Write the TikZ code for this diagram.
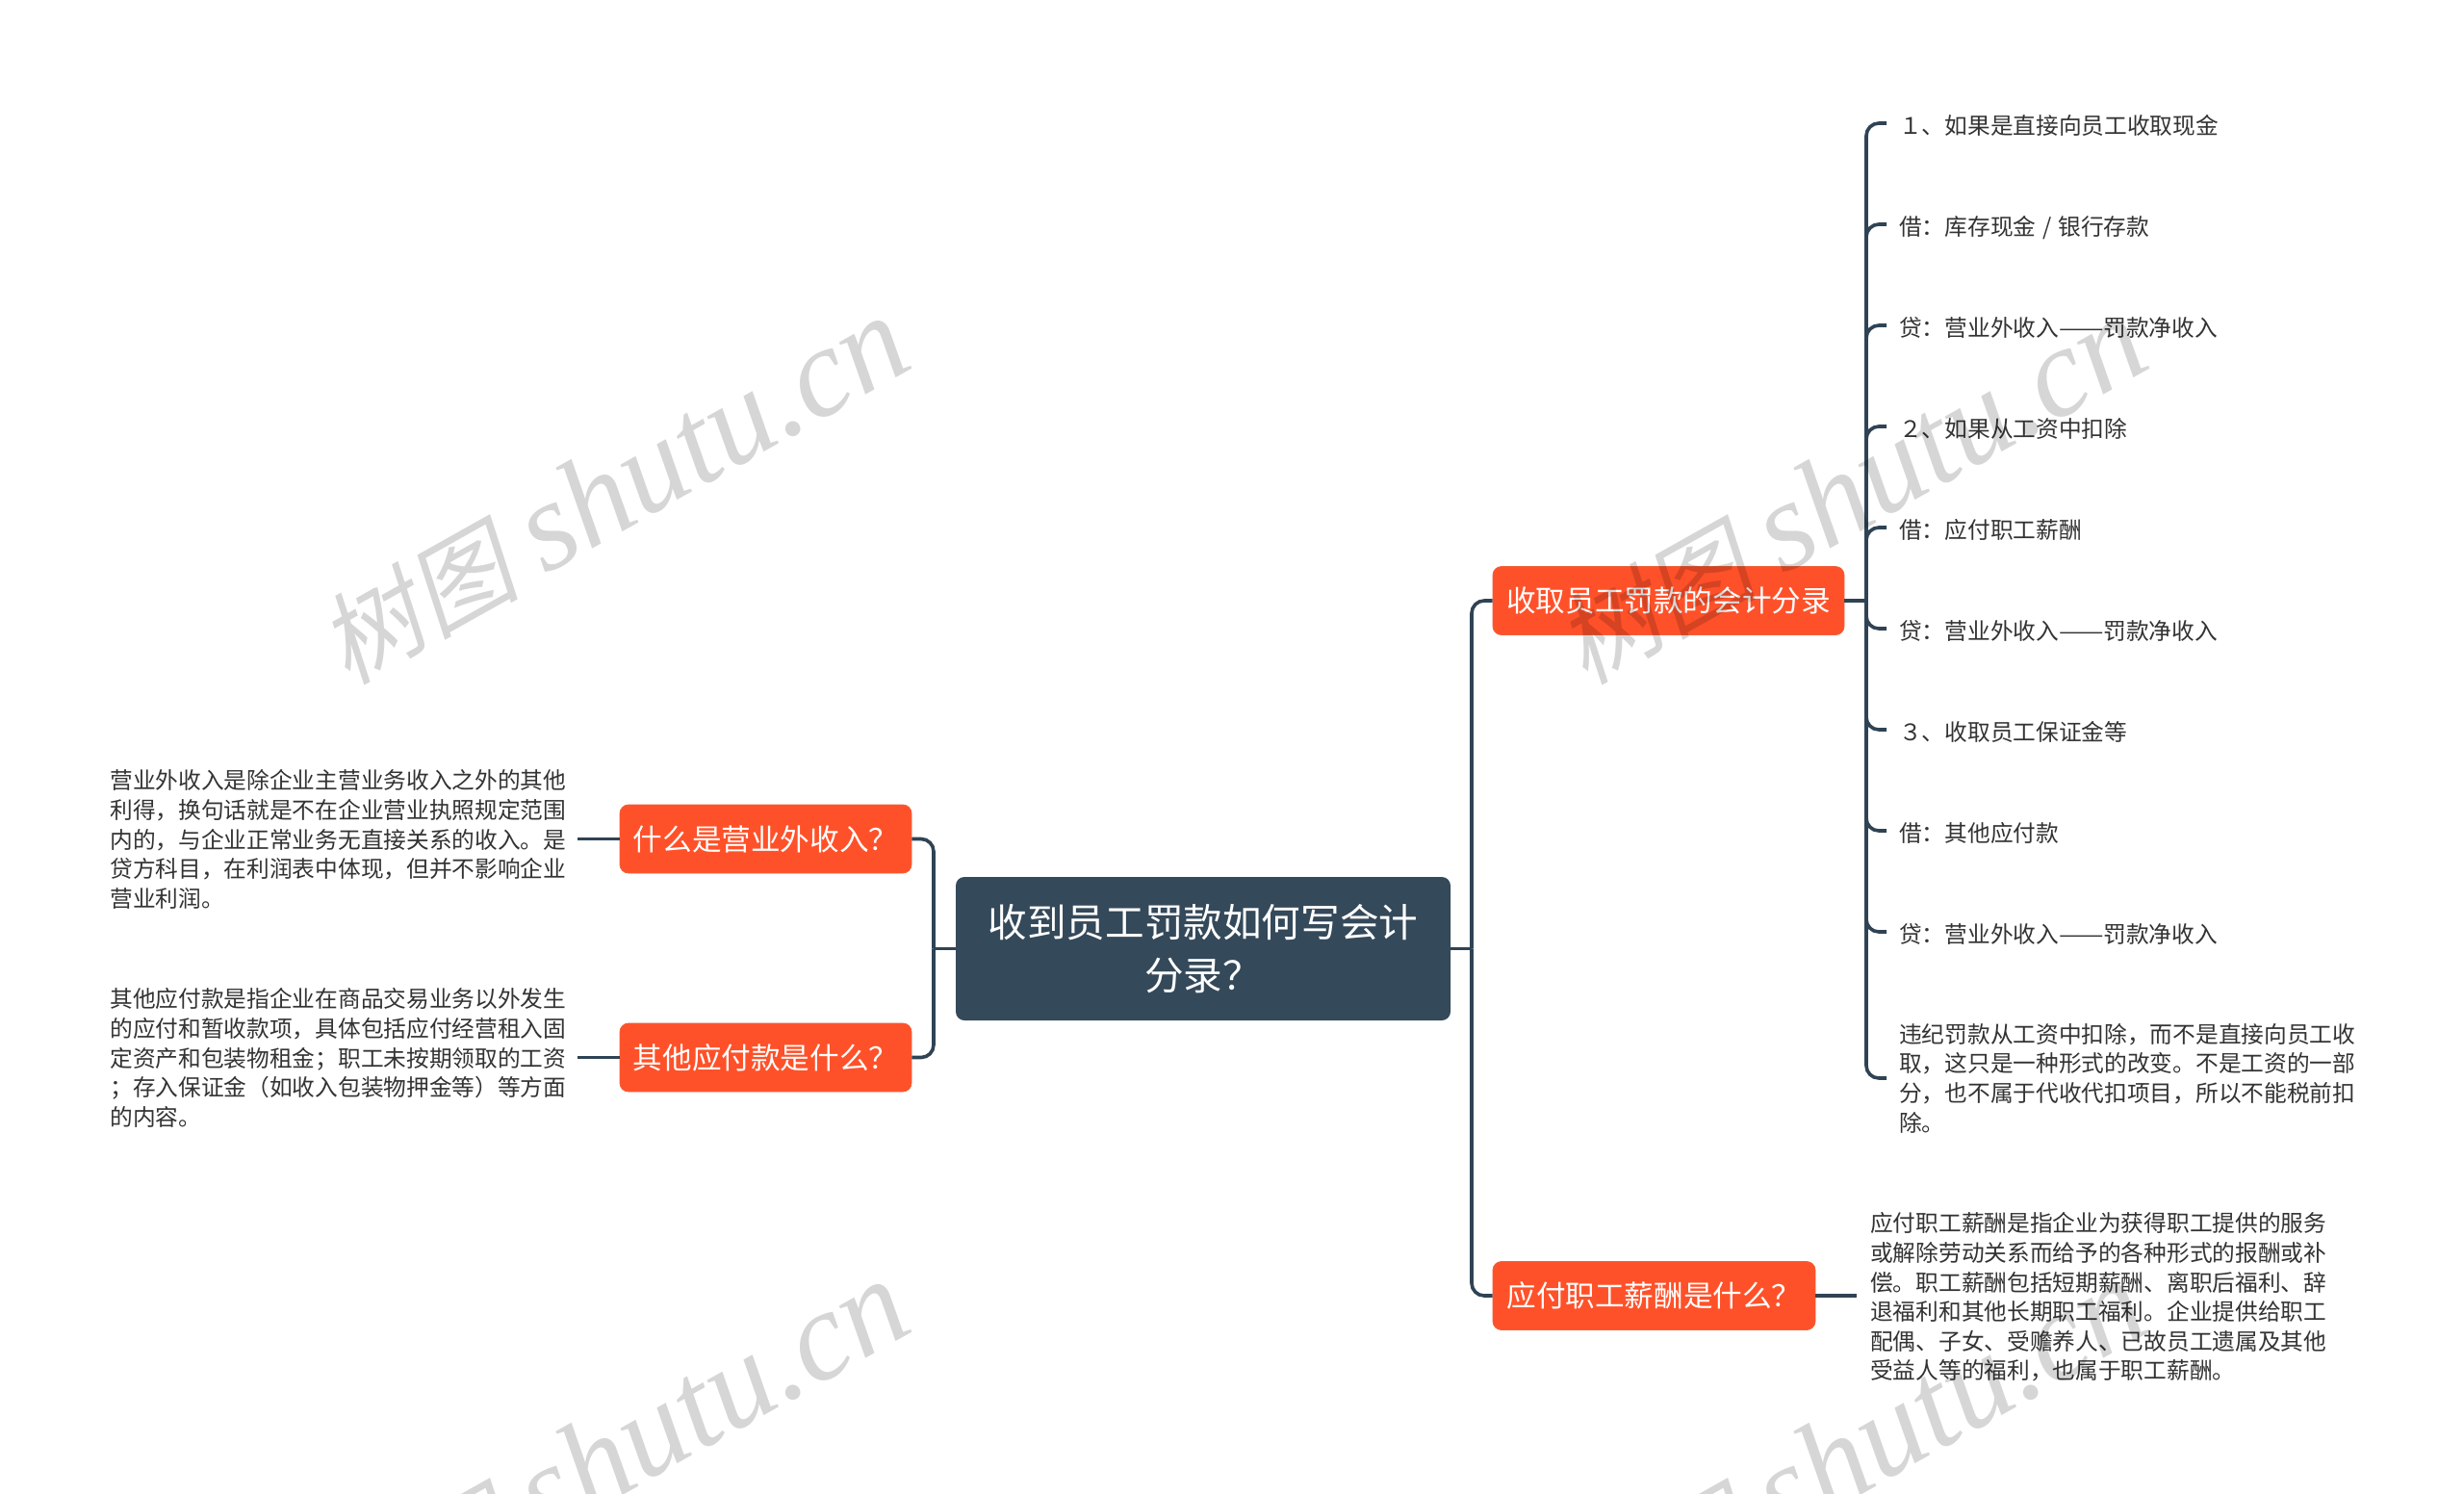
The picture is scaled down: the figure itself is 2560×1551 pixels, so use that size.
\documentclass[tikz,border=0pt]{standalone}
\usepackage{fontspec}
\usepackage{graphicx}
\setmainfont{Noto Sans CJK SC}
\newfontfamily\wmcjk[FakeSlant=0.2]{Noto Sans CJK SC}
\newfontfamily\wmlat{Liberation Serif}
\definecolor{rootc}{HTML}{34495A}
\definecolor{topicc}{HTML}{FF5129}
\definecolor{topicedge}{HTML}{F0603A}
\definecolor{linec}{HTML}{2F4354}
\definecolor{textc}{HTML}{333333}
\tikzset{
  rootbox/.style={fill=rootc,text=white,rounded corners=9pt,inner sep=0pt,align=center,font=\fontsize{40.6}{55}\selectfont},
  topic/.style={fill=topicc,draw=topicedge,line width=.8pt,text=white,rounded corners=9pt,inner sep=0pt,minimum height=71pt,text height=28pt,text depth=5pt,font=\fontsize{30.6}{36}\selectfont},
  leaf/.style={text=textc,anchor=west,inner ysep=0pt,inner xsep=13pt,text height=24pt,text depth=2pt,font=\fontsize{23.7}{30.6}\selectfont},
  para/.style={text=textc,inner ysep=0pt,inner xsep=13pt,align=left,font=\fontsize{23.7}{30.6}\selectfont},
  conn/.style={draw=linec,line width=3.6pt},
  curve/.style={conn,rounded corners=13pt},
  wm/.style={rotate=29.3,text=black,text opacity=.16,inner sep=0pt}
}
\newcommand{\wmark}{{\fontsize{104}{120}\selectfont\wmcjk 树图}\hspace{27pt}{\fontsize{132}{120}\selectfont\wmlat\itshape shutu.cn}}
\newcommand{\longdash}{\scalebox{1.17}[1]{——}}
\begin{document}
\begin{tikzpicture}[x=1pt,y=-1pt]
\useasboundingbox (0,0) rectangle (2560,1551);
\clip (0,0) rectangle (2560,1551);
\fill[white] (0,0) rectangle (2560,1551);
% main nodes
\node[rootbox,minimum width=514pt,minimum height=149pt] (root) at (1250,985.5) {收到员工罚款如何写会计\\分录？};
\node[topic,minimum width=303pt] (q1) at (795.5,871.5) {什么是营业外收入？};
\node[topic,minimum width=303pt] (q2) at (795.5,1098.5) {其他应付款是什么？};
\node[topic,minimum width=365pt] (r1) at (1733.5,624) {收取员工罚款的会计分录};
\node[topic,minimum width=335pt] (r2) at (1718.5,1346) {应付职工薪酬是什么？};
% paragraphs
\node[para,anchor=east,inner xsep=11.5pt] (d1) at (600,872) {营业外收入是除企业主营业务收入之外的其他\\利得，换句话就是不在企业营业执照规定范围\\内的，与企业正常业务无直接关系的收入。是\\贷方科目，在利润表中体现，但并不影响企业\\营业利润。};
\node[para,anchor=east,inner xsep=11.5pt] (d2) at (600,1099) {其他应付款是指企业在商品交易业务以外发生\\的应付和暂收款项，具体包括应付经营租入固\\定资产和包装物租金；职工未按期领取的工资\\；存入保证金（如收入包装物押金等）等方面\\的内容。};
\node[para,anchor=west,inner xsep=14pt] (d3) at (1929,1347.5) {应付职工薪酬是指企业为获得职工提供的服务\\或解除劳动关系而给予的各种形式的报酬或补\\偿。职工薪酬包括短期薪酬、离职后福利、辞\\退福利和其他长期职工福利。企业提供给职工\\配偶、子女、受赡养人、已故员工遗属及其他\\受益人等的福利，也属于职工薪酬。};
% leaves
\node[leaf] (l1) at (1960,128) {１、如果是直接向员工收取现金};
\node[leaf] (l2) at (1960,233) {借：库存现金\kern1.5pt{} / \kern1.5pt{}银行存款};
\node[leaf] (l3) at (1960,338) {贷：营业外收入\longdash{}罚款净收入};
\node[leaf] (l4) at (1960,443) {２、如果从工资中扣除};
\node[leaf] (l5) at (1960,548) {借：应付职工薪酬};
\node[leaf] (l6) at (1960,653) {贷：营业外收入\longdash{}罚款净收入};
\node[leaf] (l7) at (1960,758) {３、收取员工保证金等};
\node[leaf] (l8) at (1960,863) {借：其他应付款};
\node[leaf] (l9) at (1960,968) {贷：营业外收入\longdash{}罚款净收入};
\node[para,anchor=west] (l10) at (1960,1120) {违纪罚款从工资中扣除，而不是直接向员工收\\取，这只是一种形式的改变。不是工资的一部\\分，也不属于代收代扣项目，所以不能税前扣\\除。};
% junctions
\coordinate (jr) at (1529,985.5);
\coordinate (jl) at (970,985.5);
\coordinate (js) at (1939,624);
% connectors
\draw[conn] (root.east) -- (jr);
\draw[conn] (root.west) -- (jl);
\draw[curve] (jr) |- (r1.west);
\draw[curve] (jr) |- (r2.west);
\draw[curve] (jl) |- (q1.east);
\draw[curve] (jl) |- (q2.east);
\draw[conn] (q1.west) -- (d1.east |- q1.west);
\draw[conn] (q2.west) -- (d2.east |- q2.west);
\draw[conn] (r2.east) -- (d3.west |- r2.east);
\draw[conn] (r1.east) -- (js);
\foreach \n in {l1,l2,l3,l4,l5,l6,l7,l8,l9,l10}{\draw[curve] (js) |- (\n.west);}
% watermarks
\node[wm] (w1) at (637,510) {\wmark};
\node[wm] (w2) at (1923,510) {\wmark};
\node[wm] (w3) at (637,1511) {\wmark};
\node[wm] (w4) at (1923,1511) {\wmark};
\end{tikzpicture}
\end{document}
